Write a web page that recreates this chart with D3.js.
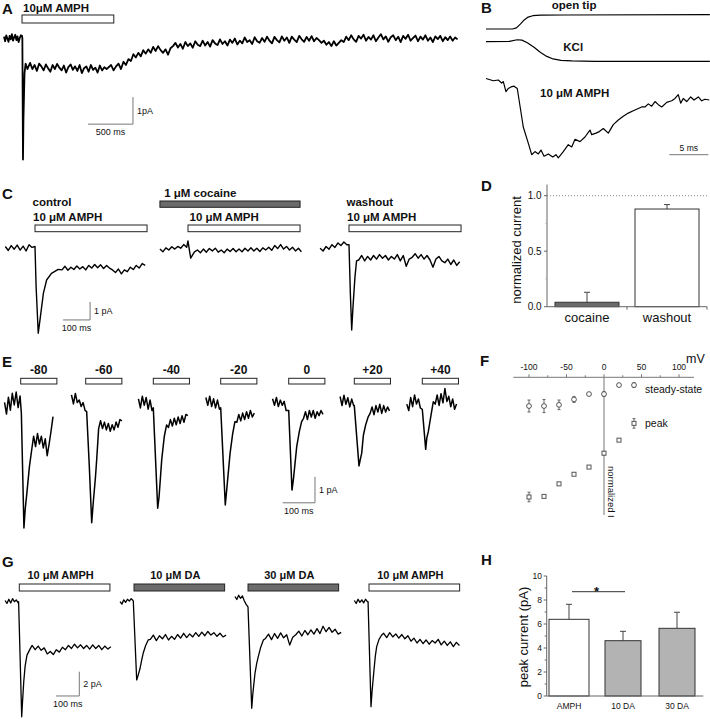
<!DOCTYPE html>
<html><head><meta charset="utf-8">
<script src="https://cdn.jsdelivr.net/npm/d3@7"></script>
<style>
body{margin:0;background:#fff}
svg{display:block}
text{font-family:'Liberation Sans',Arial,Helvetica,sans-serif;fill:#111}
</style>
</head><body>
<script>
// ---------------- DATA ----------------
// Panel A: whole-cell current (pA) vs time (ms, 0 = AMPH onset)
const A_trace = [
  {t0:-200, dt:12.5, v:[0.05,-0.12,0.1,-0.02,-0.14,0.08,-0.05,0.14,-0.1,0.02,0.12,-0.08,0.06,-0.15,0.0,0.1,0.08]},
  {pts:[[4,0],[11,-4.5],[16,-3.0],[28,-1.3],[40,-0.95],[60,-1.15]]},
  {t0:90, dt:25, v:[-0.92,-1.15,-1.0,-1.22,-0.95,-1.05,-1.2,-0.98,-1.12,-1.25,-1.0,-1.15,-0.96,-1.1,-1.2,-1.02,-1.28,-1.08,-0.98,-1.18,
    -1.05,-1.22,-1.0,-1.3,-1.12,-1.05,-1.25,-1.0,-1.18,-1.1,-1.28,-1.02,-1.2,-1.08,-1.15]},
  {t0:990, dt:27.5, v:[-1.0,-1.2,-1.05,-0.95,-1.15,-0.88,-1.0,-0.78,-0.85,-0.6,-0.72,-0.55,-0.68,-0.45,-0.58,-0.42,-0.55,-0.33,-0.48,-0.3,
    -0.45,-0.55,-0.42,-0.62,-0.38,-0.3,-0.18,-0.35,-0.22,-0.4,-0.15,-0.3,-0.2,-0.36,-0.12,-0.25,-0.3,-0.1,-0.28,-0.15,
    -0.32,-0.08,-0.2,-0.26,-0.05,-0.22,-0.12,-0.28,-0.06,-0.18,-0.02,-0.24,-0.1,-0.2,0.02,-0.15,-0.08,-0.22,0.03,-0.12,
    -0.18,0.0,-0.14,0.05,-0.1,-0.2,0.04,-0.08,-0.16,0.06,-0.1,0.02,-0.18,0.05,-0.06,-0.15,0.08,-0.05,-0.14,0.04,
    -0.1,0.07,-0.12,0.0,-0.08,-0.18,-0.1,-0.25,-0.15,-0.3,-0.12,-0.28,-0.18,-0.08,-0.15,0.05,-0.08,0.1,-0.05,-0.14,
    0.08,-0.02,0.12,-0.1,0.04,-0.06,0.1,-0.12,0.02,0.14,-0.05,0.06,-0.14,0.03,0.1,-0.08,0.05,-0.15,0.08,-0.03,
    0.12,-0.1,0.0,0.09,-0.12,0.05,-0.06,0.1,-0.1,0.02,-0.15,0.06,-0.04,0.08,-0.12,0.03,-0.08,0.06,-0.1,0.02,-0.05]}
];
const A_drug = {label:"10\u03bcM AMPH", dur:1020};
const A_scale = {t:1233, i:-3.19, dt:500, di:1, tl:"500 ms", il:"1pA"};

// Panel B: normalized responses vs time (ms)
const B_openTip = [[0,0],[3.4,0],[3.9,0.08],[4.4,0.35],[4.9,0.65],[5.4,0.85],[6.0,0.95],[7,0.99],[10,1.0],[28.7,1.02]];
const B_KCl = [[0,0],[3.0,0.02],[4.0,0.1],[4.6,0.08],[5.3,-0.05],[6.2,-0.3],[7.0,-0.55],[7.8,-0.75],[8.6,-0.88],[9.6,-0.95],[11,-0.98],[14,-1.0],[28.7,-1.0]];
const B_amph = [[0,0.02],[0.94,-0.01],[1.58,0],[2.01,-0.04],[2.22,-0.02],[2.56,-0.15],[2.86,-0.11],[3.21,-0.09],[3.59,-0.08],[4.01,-0.11],
  [4.78,-0.61],[5.42,-0.82],[5.86,-0.97],[6.28,-0.93],[6.71,-0.96],[7.05,-0.91],[7.44,-0.99],[7.99,-0.96],[8.55,-1.0],[8.97,-0.97],
  [9.27,-1.01],[9.91,-0.93],[10.55,-0.84],[10.99,-0.87],[11.41,-0.77],[12.05,-0.8],[12.69,-0.74],[13.33,-0.65],[13.55,-0.71],[14.1,-0.69],
  [14.53,-0.67],[15.04,-0.63],[15.68,-0.69],[16.32,-0.58],[16.96,-0.52],[17.6,-0.47],[18.24,-0.43],[18.88,-0.4],[19.53,-0.37],[19.96,-0.35],
  [20.38,-0.35],[20.81,-0.31],[21.24,-0.34],[21.67,-0.28],[22.09,-0.32],[22.53,-0.35],[23.17,-0.29],[23.81,-0.27],[24.23,-0.24],[24.65,-0.19],
  [24.96,-0.3],[25.29,-0.24],[25.73,-0.28],[26.24,-0.22],[26.67,-0.26],[27.22,-0.22],[27.65,-0.27],[28.08,-0.25],[28.63,-0.26]];
const B_labels = ["open tip","KCl","10 \u03bcM AMPH"];
const B_scale = {t:28.5, dt:5, tl:"5 ms"};

// Panel C: current (pA) vs time (ms, 0 = AMPH onset)
const C_control = [
  {t0:-110, dt:11, v:[0.1,-0.12,0.15,-0.05,0.18,-0.1,0.12,-0.15,0.2,0.05]},
  {pts:[[0,0.1],[4,-2.1],[12,-4.72],[18.5,-3.98],[31,-2.5],[43,-1.76],[61,-1.39],[86,-1.17]]},
  {t0:100, dt:11, v:[-1.2,-1.0,-1.22,-1.05,-1.18,-0.98,-1.15,-1.02,-1.2,-0.95,-1.1,-0.9,-1.08,-0.92,-1.12,-0.95,-1.1,-1.2,-1.35,-1.15,-1.42,-1.2,-1.3,-1.05,-1.18,-0.95,-1.1,-0.85,-0.95]}
];
const C_cocaine = [
  {t0:-104, dt:11, v:[0.05,-0.1,0.12,0.0,0.18,0.05,0.2,0.1,0.3,0.15]},
  {pts:[[0,0.5],[4,0.1],[10,-0.45],[16,-0.3],[24,-0.1]]},
  {t0:35, dt:11, v:[0.0,-0.15,0.05,-0.12,0.08,-0.05,0.1,-0.12,0.0,-0.15,0.05,-0.08,0.08,-0.1,0.05,-0.1,0.1,-0.05,0.12,-0.05,0.1,-0.08,0.12,0.0,0.15,-0.02,0.25,0.08,0.3,0.05,0.2,0.0,0.15,-0.05,0.1,-0.1]}
];
const C_washout = [
  {t0:-107, dt:11, v:[0.0,-0.15,0.1,-0.05,0.2,0.05,0.3,0.15,0.35,0.2]},
  {pts:[[0,0.2],[5,-2.5],[10,-4.54],[15,-3.2],[22,-1.6],[28,-0.7]]},
  {t0:36, dt:11, v:[-0.65,-0.4,-0.7,-0.45,-0.65,-0.4,-0.6,-0.35,-0.55,-0.4,-0.65,-0.45,-0.6,-0.35,-0.7,-0.4,-1.0,-0.6,-0.5,-0.3,-0.55,-0.35,-0.6,-0.4,-0.65,-1.05,-0.6,-0.45,-0.7,-0.8,-0.6,-0.9,-0.65,-0.95,-0.75]}
];
const C_titles = ["control","","washout"];
const C_drug = {label:"10 \u03bcM AMPH", dur:415};
const C_blocker = {label:"1 \u03bcM cocaine", t0:-104, t1:415};
const C_scale = {t:204, i:-3.98, dt:100, di:1, tl:"100 ms", il:"1 pA"};

// Panel D: normalized current
const D_cats = ["cocaine","washout"];
const D_vals = [0.04, 0.88];
const D_err = [0.09, 0.04];
const D_ticks = [0, 0.5, 1.0];

// Panel E: current (pA) at holding potentials (mV)
const E_volts = ["-80","-60","-40","-20","0","+20","+40"];
const E_traces = [
  [{t0:-50,dt:6,v:[0.1,-0.35,0.3,-0.2,0.45,0.0,0.5,-0.1,0.35]},{pts:[[2,-0.3],[10,-4.73],[14,-4.0],[19,-3.4],[27,-2.37],[34,-1.73]]},{t0:40,dt:6,v:[-1.2,-1.6,-1.1,-1.5,-1.2,-1.65,-1.3,-1.95,-1.5,-1.0,-0.45]}],
  [{t0:-44,dt:6,v:[0.2,-0.15,0.25,-0.1,0.0,-0.25,-0.1,-0.4]},{pts:[[3,-0.45],[11,-2.5],[18.6,-4.72],[23,-4.0],[30,-3.0],[34,-2.3],[40,-1.1]]},{t0:46,dt:6,v:[-0.8,-1.1,-0.85,-1.15,-0.9,-1.2,-0.95,-1.15,-0.85,-1.05,-0.75,-0.8]}],
  [{t0:-46,dt:6,v:[0.15,-0.2,0.25,-0.1,0.2,-0.25,0.1,-0.3]},{pts:[[0,-0.2],[13.6,-4.06],[18,-3.6],[26,-2.2],[34,-1.3],[41,-0.86]]},{t0:47,dt:6,v:[-0.95,-0.65,-0.9,-0.6,-0.85,-0.55,-0.8,-0.5,-0.75,-0.45,-0.5]}],
  [{t0:-46,dt:6,v:[0.2,-0.1,0.25,-0.15,0.15,-0.2,0.1,-0.25]},{pts:[[0,-0.2],[14.2,-3.93],[19,-3.3],[29,-1.95],[37,-1.2],[44,-0.73]]},{t0:50,dt:6,v:[-0.75,-0.45,-0.7,-0.4,-0.65,-0.35,-0.6,-0.3,-0.55,-0.4]}],
  [{t0:-50,dt:6,v:[0.15,-0.1,0.2,-0.15,0.1,-0.1,0.05,-0.3]},{pts:[[0,-0.3],[10.2,-3.36],[15,-2.9],[24.8,-1.69],[33,-1.1],[40,-0.73]]},{t0:46,dt:6,v:[-0.6,-0.35,-0.65,-0.3,-0.55,-0.3,-0.6,-0.35,-0.5,-0.3,-0.45]}],
  [{t0:-44,dt:6,v:[0.2,-0.15,0.25,-0.1,0.15,-0.2,0.1,-0.15]},{pts:[[0,-0.15],[14.5,-2.47],[19,-2.2],[23,-1.98],[28,-1.3],[35,-0.9],[43,-0.58]]},{t0:49,dt:6,v:[-0.45,-0.2,-0.5,-0.15,-0.4,-0.1,-0.45,-0.15,-0.4,-0.2,-0.35]}],
  [{t0:-48,dt:6,v:[0.1,-0.15,0.35,0.0,0.45,0.1,0.3,-0.05]},{pts:[[0,-0.1],[10.5,-1.64],[14,-1.2],[18.6,-0.96],[24,-0.55],[30,-0.1],[34,0.19]]},{t0:40,dt:6,v:[0.1,0.45,0.05,0.5,0.15,0.7,0.2,0.4,0.0,0.3,-0.1,0.1]}]
];
const E_dur = 112;
const E_scale = {trace:4, t:81.4, i:-3.85, dt:100, di:1, tl:"100 ms", il:"1 pA"};

// Panel F: I-V relation (normalized I vs mV)
const F_volts = [-100,-80,-60,-40,-20,0,20,40];
const F_steady = [-0.24,-0.24,-0.23,-0.185,-0.14,-0.14,-0.065,-0.065];
const F_steadyErr = [0.05,0.055,0.04,0.025,0.01,0.02,0.01,0.02];
const F_peak = [-1.0,-0.995,-0.89,-0.81,-0.75,-0.634,-0.525,-0.385];
const F_peakErr = [0.04,0.01,0.01,0.01,0.01,0.015,0.01,0.04];
const F_ticks = [-100,-50,0,50,100];

// Panel G: current (pA) for substrates
const G_labels = ["10 \u03bcM AMPH","10 \u03bcM DA","30 \u03bcM DA","10 \u03bcM AMPH"];
const G_isDA = [false,true,true,false];
const G_traces = [
  [{t0:-61,dt:8,v:[0.1,-0.15,0.2,-0.1,0.25,0.0,0.15,-0.1]},{pts:[[-3,0],[10.3,-9.47],[14,-8.2],[19,-6.6],[25,-5.3],[33,-4.4],[46,-3.9]]},
   {t0:55,dt:13,v:[-3.6,-3.95,-3.65,-4.0,-3.8,-4.3,-4.1,-4.35,-3.95,-4.15,-3.75,-3.95,-3.6,-3.85,-3.5,-3.8,-3.55,-3.85,-3.6,-3.9,-3.55,-3.85,-3.6,-3.95,-3.65,-3.9,-3.7]}],
  [{t0:-60,dt:8,v:[0.0,-0.2,0.15,-0.05,0.2,0.05,0.25,0.1]},{pts:[[-3,0.05],[11.6,-6.44],[17,-6.1],[25.8,-5.5],[33,-4.8],[40,-4.2],[50,-3.6],[61,-3.15]]},
   {t0:70,dt:13,v:[-3.1,-2.75,-3.2,-2.8,-3.05,-2.7,-3.15,-2.85,-3.1,-2.7,-3.0,-2.6,-2.95,-2.65,-2.9,-2.55,-2.85,-2.5,-2.8,-2.45,-2.75,-2.55,-2.85,-2.6,-2.9,-2.75]}],
  [{t0:-56,dt:8,v:[0.15,-0.1,0.25,0.0,0.2,-0.2,-0.5]},{pts:[[0,-0.7],[16,-9.05],[21,-7.8],[30,-6.17],[37,-5.4],[44,-4.8],[55,-4.0],[66,-3.43]]},
   {t0:75,dt:13,v:[-3.3,-2.95,-3.4,-2.9,-3.3,-2.85,-3.25,-3.0,-3.85,-3.2,-3.0,-2.7,-3.1,-2.65,-3.0,-2.6,-2.95,-2.5,-2.9,-2.3,-2.75,-2.4,-2.8,-2.55,-2.95,-2.8]}],
  [{t0:-63,dt:8,v:[0.1,-0.15,0.2,-0.05,0.15,-0.1,0.2,0.0]},{pts:[[-4,0],[8.6,-8.64],[13,-7.4],[21.5,-5.6],[27,-4.5],[33,-3.7],[43,-3.1],[54.5,-2.74]]},
   {t0:63,dt:13,v:[-2.6,-2.95,-2.55,-2.9,-2.65,-3.0,-2.7,-3.05,-2.8,-3.25,-3.0,-3.4,-3.1,-3.45,-3.15,-3.5,-3.2,-3.4,-3.1,-3.55,-3.25,-3.6,-3.3,-3.7,-3.35,-3.6]}]
];
const G_dur = 389;
const G_scale = {trace:0, t:257.5, i:-7.76, dt:100, di:2, tl:"100 ms", il:"2 pA"};

// Panel H: peak current (pA)
const H_cats = ["AMPH","10 DA","30 DA"];
const H_vals = [6.39, 4.61, 5.64];
const H_err = [1.25, 0.78, 1.34];
const H_ticks = [0,2,4,6,8,10];

// ---------------- LAYOUT / HELPERS ----------------
const svg = d3.select("body").append("svg").attr("width",710).attr("height",719);
const OPEN = "#fff", DARK = "#6b6b6b", LIGHT = "#b3b3b3", AX = "#666";

function expand(segs){
  const out=[];
  segs.forEach(s=>{ if(s.pts) s.pts.forEach(p=>out.push(p)); else s.v.forEach((v,i)=>out.push([s.t0+i*s.dt, v])); });
  return out;
}
function trace(pts, xs, ys, w){
  svg.append("path").attr("d", d3.line().x(d=>xs(d[0])).y(d=>ys(d[1]))(pts))
    .attr("fill","none").attr("stroke","#000").attr("stroke-width",w||1.3).attr("stroke-linejoin","round");
}
function txt(x,y,s,o){
  o=o||{};
  const t = svg.append("text").attr("x",x).attr("y",y).text(s)
    .attr("font-size",o.size||11.5).attr("font-weight",o.bold?"bold":"normal")
    .attr("text-anchor",o.anchor||"start");
  if(o.rot!=null) t.attr("transform",`rotate(${o.rot},${x},${y})`);
  if(o.dy) t.attr("dy",o.dy);
  return t;
}
function bar(x0,x1,y0,h,fill){
  svg.append("rect").attr("x",x0).attr("y",y0).attr("width",x1-x0).attr("height",h)
    .attr("fill",fill).attr("stroke","#222").attr("stroke-width",1);
}
function line(x1,y1,x2,y2,c,w,dash){
  const l = svg.append("line").attr("x1",x1).attr("y1",y1).attr("x2",x2).attr("y2",y2)
    .attr("stroke",c||"#000").attr("stroke-width",w||1);
  if(dash) l.attr("stroke-dasharray",dash);
  return l;
}
function scaleBar(xs, ys, sb, size){
  const xr = xs(sb.t), xl = xs(sb.t - sb.dt), yb = ys(sb.i), yt = ys(sb.i + sb.di);
  line(xl,yb,xr,yb,"#777",1); line(xr,yb,xr,yt,"#777",1);
  txt(xr+4, (yb+yt)/2+3.5, sb.il, {size:size});
  txt((xl+xr)/2, yb+11, sb.tl, {size:size, anchor:"middle"});
}
function letter(x,y,s){ txt(x,y,s,{size:15,bold:true}); }

// ---------------- PANEL A ----------------
letter(2,14,"A");
{
  const xs = d3.scaleLinear().domain([0,1000]).range([22,112]);
  const ys = d3.scaleLinear().domain([0,-1]).range([38,65]);
  txt(23,12,A_drug.label,{bold:true,size:11.5});
  bar(xs(0), xs(A_drug.dur), 15, 8, OPEN);
  trace(expand(A_trace), xs, ys, 1.8);
  scaleBar(xs, ys, A_scale, 9);
}

// ---------------- PANEL B ----------------
letter(481,13,"B");
{
  const xs = d3.scaleLinear().domain([0,5]).range([486,525]);
  const yOpen = d3.scaleLinear().domain([0,1]).range([29,15]);
  const yK = d3.scaleLinear().domain([0,-1]).range([41.7,61.3]);
  const yA = d3.scaleLinear().domain([0,-1]).range([80,157]);
  trace(B_openTip, xs, yOpen, 1.2);
  trace(B_KCl, xs, yK, 1.2);
  trace(B_amph, xs, yA, 1.2);
  txt(551.7,9,B_labels[0],{bold:true});
  txt(563.3,50.7,B_labels[1],{bold:true});
  txt(540,96.7,B_labels[2],{bold:true});
  const y = yA(-0.97);
  line(xs(B_scale.t - B_scale.dt), y, xs(B_scale.t), y, "#777", 1);
  txt((xs(B_scale.t - B_scale.dt)+xs(B_scale.t))/2, y-4, B_scale.tl, {size:8.5, anchor:"middle"});
}

// ---------------- PANEL C ----------------
letter(2,199,"C");
{
  const origins = [35,188,349], bases = [248.3,250,248.3];
  const traces = [C_control, C_cocaine, C_washout];
  traces.forEach((tr,k)=>{
    const xs = d3.scaleLinear().domain([0,100]).range([origins[k], origins[k]+27]);
    const ys = d3.scaleLinear().domain([0,-1]).range([bases[k], bases[k]+18]);
    trace(expand(tr), xs, ys, 1.4);
    bar(xs(0), xs(C_drug.dur), 225, 6.7, OPEN);
    txt(xs(0)-(k===1?-1.5:2), 220.7, C_drug.label, {bold:true});
    if(C_titles[k]) txt(xs(0)-2.5, 205.5, C_titles[k], {bold:true});
    if(k===1){
      bar(xs(C_blocker.t0), xs(C_blocker.t1), 201, 6.3, DARK);
      txt(xs(C_blocker.t0)+4.3, 196.7, C_blocker.label, {bold:true});
    }
    if(k===0) scaleBar(xs, ys, C_scale, 9);
  });
}

// ---------------- PANEL D ----------------
letter(481,191,"D");
{
  const y = d3.scaleLinear().domain([0,1.1]).range([306.7,184.6]);
  const x = d3.scaleBand().domain(D_cats).range([547,707]).paddingInner(0.2).paddingOuter(0.1);
  line(547, y(1), 708, y(1), "#888", 1, "1,2");
  D_cats.forEach((c,i)=>{
    const x0 = x(c), w = x.bandwidth(), cx = x0 + w/2;
    line(cx, y(D_vals[i]), cx, y(D_vals[i]+D_err[i]), "#444", 1);
    line(cx-3, y(D_vals[i]+D_err[i]), cx+3, y(D_vals[i]+D_err[i]), "#444", 1);
    svg.append("rect").attr("x",x0).attr("y",y(D_vals[i])).attr("width",w).attr("height",y(0)-y(D_vals[i]))
      .attr("fill", i===0?DARK:OPEN).attr("stroke","#333").attr("stroke-width",1);
    txt(cx, 321.7, c, {size:13, anchor:"middle"});
  });
  line(547, y(0), 547, y(1.1), AX, 1);
  line(547, y(0), 707, y(0), AX, 1);
  [547+80, 707].forEach(tx=>line(tx, y(0), tx, y(0)+3, AX, 1));
  D_ticks.forEach(v=>{
    line(544, y(v), 547, y(v), AX, 1);
    txt(541.7, y(v), d3.format(".1f")(v), {size:10, anchor:"end", dy:"0.35em"});
  });
  [0.25,0.75].forEach(v=>line(545.5, y(v), 547, y(v), "#aaa", 1));
  txt(520.5, 250, "normalized current", {size:13, anchor:"middle", rot:-90});
}

// ---------------- PANEL E ----------------
letter(2,367,"E");
{
  const origins = [20.7,85.7,153.3,220.7,288.7,354.3,422.3];
  const bases = [405,400,402.7,402.7,402.7,401.7,406.7];
  E_traces.forEach((tr,k)=>{
    const xs = d3.scaleLinear().domain([0,100]).range([origins[k], origins[k]+32.3]);
    const ys = d3.scaleLinear().domain([0,-1]).range([bases[k], bases[k]+26]);
    trace(expand(tr), xs, ys, 1.5);
    bar(xs(0), xs(E_dur), 378.3, 5.7, OPEN);
    txt((xs(0)+xs(E_dur))/2, 373.5, E_volts[k], {bold:true, size:12, anchor:"middle"});
    if(k===E_scale.trace) scaleBar(xs, ys, E_scale, 9);
  });
}

// ---------------- PANEL F ----------------
letter(480,366,"F");
{
  const x = d3.scaleLinear().domain([-100,100]).range([529,679]);
  const y = d3.scaleLinear().domain([0,-1]).range([377.3,497]);
  line(513.3, y(0), 694, y(0), "#777", 1);
  line(x(0), y(0), x(0), 515, "#777", 1);
  d3.range(-100,101,25).forEach(v=>line(x(v), y(0), x(v), y(0)-(v%50===0?3:2), "#777", 1));
  F_ticks.forEach(v=>txt(x(v), 369.5, String(v), {size:8.5, anchor:"middle"}));
  txt(686, 362.5, "mV", {size:12.5});
  txt(x(0)+4, 466, "normalized I", {size:9.5, rot:90});
  const errs = (vals, es)=>vals.forEach((v,i)=>{
    const cx = x(F_volts[i]);
    line(cx, y(v-es[i]), cx, y(v+es[i]), "#666", 1);
    line(cx-1.5, y(v-es[i]), cx+1.5, y(v-es[i]), "#666", 1);
    line(cx-1.5, y(v+es[i]), cx+1.5, y(v+es[i]), "#666", 1);
  });
  errs(F_steady, F_steadyErr);
  errs(F_peak, F_peakErr);
  svg.append("g").selectAll("circle").data(F_steady).join("circle")
    .attr("cx",(d,i)=>x(F_volts[i])).attr("cy",d=>y(d)).attr("r",2.4)
    .attr("fill","#fff").attr("stroke","#555").attr("stroke-width",1);
  svg.append("g").selectAll("rect").data(F_peak).join("rect")
    .attr("x",(d,i)=>x(F_volts[i])-2).attr("y",d=>y(d)-2).attr("width",4).attr("height",4)
    .attr("fill","#fff").attr("stroke","#555").attr("stroke-width",1);
  txt(645, 393.3, "steady-state", {size:10.5});
  txt(645, 426.7, "peak", {size:10.5});
}

// ---------------- PANEL G ----------------
letter(2,567,"G");
{
  const origins = [19.3,134,248,369];
  const bases = [601.7,601.7,598.3,601.7];
  G_traces.forEach((tr,k)=>{
    const xs = d3.scaleLinear().domain([0,100]).range([origins[k], origins[k]+23.3]);
    const ys = d3.scaleLinear().domain([0,-1]).range([bases[k], bases[k]+12.15]);
    trace(expand(tr), xs, ys, 1.3);
    bar(xs(0), xs(G_dur), 584, 7, G_isDA[k]?DARK:OPEN);
    txt((xs(0)+xs(G_dur))/2-4, 578.5, G_labels[k], {bold:true, size:11, anchor:"middle"});
    if(k===G_scale.trace) scaleBar(xs, ys, G_scale, 9);
  });
}

// ---------------- PANEL H ----------------
letter(481,565,"H");
{
  const y = d3.scaleLinear().domain([0,10]).range([696,576]);
  const x = d3.scalePoint().domain(H_cats).range([569,677]);
  const bw = [40,36,36];
  H_cats.forEach((c,i)=>{
    const cx = x(c);
    line(cx, y(H_vals[i]), cx, y(H_vals[i]+H_err[i]), "#444", 1);
    line(cx-3, y(H_vals[i]+H_err[i]), cx+3, y(H_vals[i]+H_err[i]), "#444", 1);
    svg.append("rect").attr("x",cx-bw[i]/2).attr("y",y(H_vals[i])).attr("width",bw[i]).attr("height",y(0)-y(H_vals[i]))
      .attr("fill", i===0?OPEN:LIGHT).attr("stroke","#333").attr("stroke-width",1);
    txt(cx, 708.5, c, {size:8.5, anchor:"middle"});
  });
  line(546.7, y(0), 546.7, y(10), AX, 1);
  line(546.7, y(0), 703.3, y(0), AX, 1);
  d3.range(0,11,1).forEach(v=>line(546.7-(v%2===0?3:2), y(v), 546.7, y(v), AX, 1));
  H_ticks.forEach(v=>txt(542, y(v), String(v), {size:8.5, anchor:"end", dy:"0.35em"}));
  line(x(H_cats[0])+3, 591.7, x(H_cats[1])+2, 591.7, "#333", 1);
  txt((x(H_cats[0])+x(H_cats[1]))/2+0.5, 595.5, "*", {size:13, bold:true, anchor:"middle"});
  txt(528, 637, "peak current (pA)", {size:13, anchor:"middle", rot:-90});
}
</script>
</body></html>
